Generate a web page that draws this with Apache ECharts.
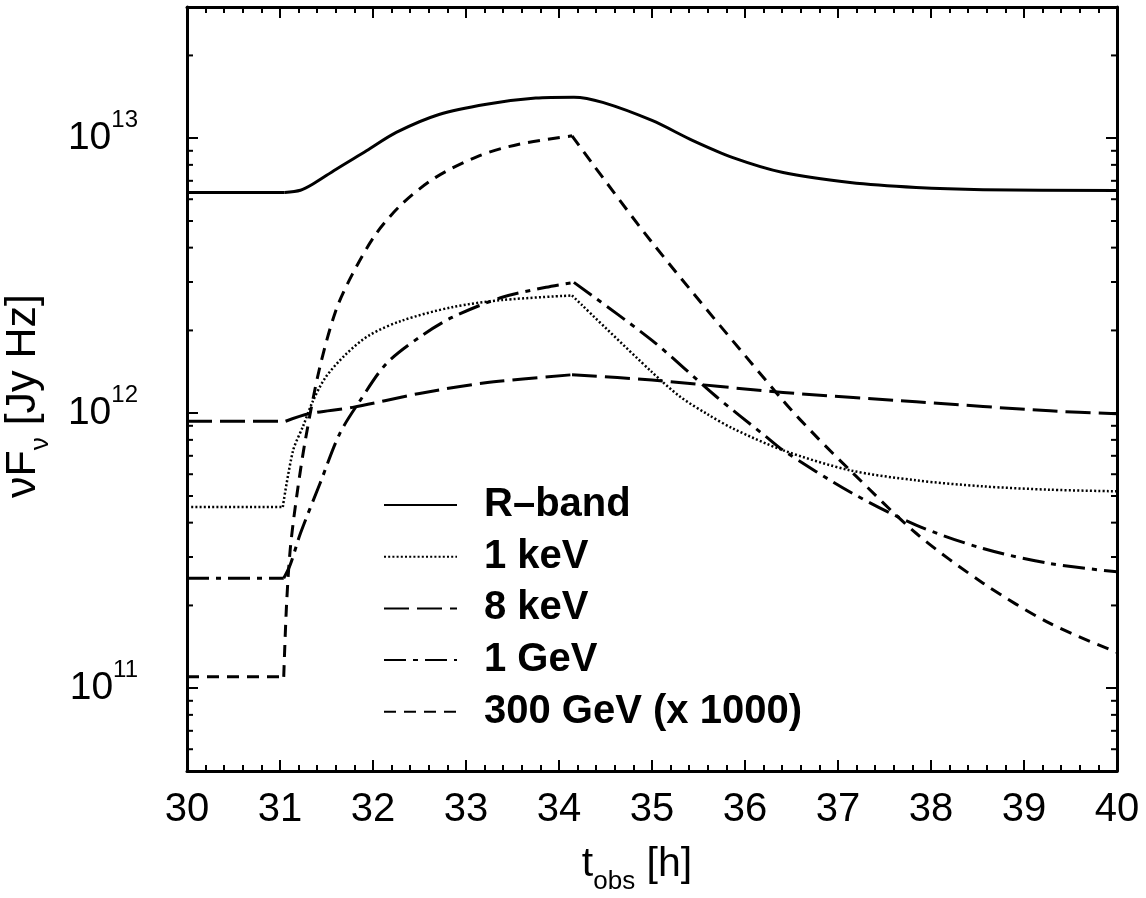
<!DOCTYPE html>
<html>
<head>
<meta charset="utf-8">
<script src="https://cdn.jsdelivr.net/npm/echarts@6/dist/echarts.min.js"></script>
<style>
html,body{margin:0;padding:0;background:#fff;}
#chart{width:1146px;height:898px;}
</style>
</head>
<body>
<div id="chart"></div>
<script>
// ---- data (t_obs in hours, nuF_nu in Jy Hz) ----
const xTicks = [30, 31, 32, 33, 34, 35, 36, 37, 38, 39, 40];
const yMajorTicks = [1e11, 1e12, 1e13];
const yMinorTicks = [6e10, 7e10, 8e10, 9e10,
  2e11, 3e11, 4e11, 5e11, 6e11, 7e11, 8e11, 9e11,
  2e12, 3e12, 4e12, 5e12, 6e12, 7e12, 8e12, 9e12,
  2e13];

const seriesNames = ['R–band', '1 keV', '8 keV', '1 GeV', '300 GeV (x 1000)'];

const rBand = [
  [30, 6.35e12], [31.05, 6.35e12], [31.22, 6.47e12], [31.35, 6.8e12], [31.6, 7.7e12],
  [31.93, 9.0e12], [32.25, 1.05e13], [32.71, 1.22e13], [33.22, 1.33e13], [33.75, 1.40e13],
  [34.16, 1.41e13], [34.47, 1.35e13], [35.0, 1.16e13], [35.44, 9.8e12], [35.87, 8.5e12],
  [36.41, 7.5e12], [37.13, 6.9e12], [37.84, 6.62e12], [38.56, 6.5e12], [40, 6.45e12]
];
const keV1 = [
  [30, 4.56e11], [31.03, 4.56e11], [31.14, 7.3e11], [31.25, 9.0e11], [31.35, 1.1e12],
  [31.49, 1.35e12], [31.71, 1.64e12], [31.96, 1.92e12], [32.31, 2.17e12], [32.85, 2.43e12],
  [33.39, 2.58e12], [34.14, 2.68e12], [35.0, 1.41e12], [35.3, 1.15e12], [35.6, 9.9e11],
  [35.87, 8.8e11], [36.41, 7.33e11], [37.13, 6.2e11], [37.84, 5.7e11], [38.56, 5.42e11],
  [39.28, 5.27e11], [40, 5.2e11]
];
const keV8 = [
  [30, 9.35e11], [31.06, 9.35e11], [31.31, 9.95e11], [31.78, 1.05e12], [32.5, 1.18e12],
  [33.21, 1.29e12], [34.14, 1.38e12], [35.0, 1.32e12], [36.41, 1.19e12], [37.84, 1.10e12],
  [39.28, 1.02e12], [40, 9.96e11]
];
const geV1 = [
  [30, 2.51e11], [31.04, 2.51e11], [31.11, 2.81e11], [31.22, 3.66e11], [31.43, 5.55e11],
  [31.64, 8.4e11], [31.86, 1.11e12], [32.14, 1.51e12], [32.5, 1.89e12], [32.85, 2.23e12],
  [33.39, 2.64e12], [33.86, 2.87e12], [34.16, 2.99e12], [35.0, 1.84e12], [35.69, 1.15e12],
  [36.23, 8.2e11], [36.41, 7.33e11], [37.13, 5.17e11], [37.84, 3.92e11], [38.56, 3.22e11],
  [39.28, 2.84e11], [40, 2.65e11]
];
const geV300 = [
  [30, 1.1e11], [31.04, 1.1e11], [31.07, 2.0e11], [31.11, 3.2e11], [31.18, 5.0e11],
  [31.27, 7.9e11], [31.42, 1.43e12], [31.6, 2.36e12], [31.78, 3.21e12], [32.03, 4.48e12],
  [32.31, 5.76e12], [32.67, 7.19e12], [33.14, 8.63e12], [33.57, 9.51e12], [34.14, 1.02e13],
  [35.0, 4.18e12], [36.41, 1.11e12], [36.77, 8.2e11], [37.13, 6.2e11], [37.84, 3.66e11],
  [38.56, 2.41e11], [39.28, 1.72e11], [40, 1.35e11]
];
// times where a curve has a sharp corner (burst onset / peak)
const rBandCorners = [31.05];
const keV1Corners = [31.03, 34.14];
const keV8Corners = [31.06, 34.14];
const geV1Corners = [31.04, 34.16];
const geV300Corners = [31.04, 34.14];

const FONT = "'Liberation Sans', Arial, sans-serif";
const X_MIN = xTicks[0], X_MAX = xTicks[xTicks.length - 1];
const Y_MIN = 5e10, Y_MAX = 3e13;

const chart = echarts.init(document.getElementById('chart'), null, {renderer: 'canvas'});

const axisLineStyle = {lineStyle: {color: '#000', width: 3}};
const tickStyle = {inside: true, length: 11, lineStyle: {color: '#000', width: 2}};
const minorTickStyle = {show: true, splitNumber: 5, length: 6, lineStyle: {color: '#000', width: 2}};

function splitAt(data, cuts) {
  const out = [];
  let cur = [];
  data.forEach(function (p) {
    cur.push(p);
    if (cuts.indexOf(p[0]) >= 0) { out.push(cur); cur = [p]; }
  });
  if (cur.length > 1) out.push(cur);
  return out;
}

function curveSeries(name, data, cuts, type, width) {
  return splitAt(data, cuts).map(function (seg) {
    const flat = seg.length === 2 && seg[0][1] === seg[1][1];
    return {
      name: name, type: 'line', data: seg, symbol: 'none',
      smooth: flat ? false : 0.3,
      xAxisIndex: 0, yAxisIndex: 0,
      lineStyle: {color: '#000', width: width, type: type, cap: 'butt', join: 'round'},
      itemStyle: {color: '#000'},
      animation: false, z: 3
    };
  });
}

const lineSeriesList = [].concat(
  curveSeries(seriesNames[0], rBand, rBandCorners, 'solid', 3),
  curveSeries(seriesNames[1], keV1, keV1Corners, [2, 2.2], 2.5),
  curveSeries(seriesNames[2], keV8, keV8Corners, [25, 8], 3),
  curveSeries(seriesNames[3], geV1, geV1Corners, [22, 7, 5, 7], 3),
  curveSeries(seriesNames[4], geV300, geV300Corners, [12, 8], 3)
);

const option = {
  backgroundColor: '#fff',
  animation: false,
  grid: {left: 187, right: 29, top: 7, bottom: 127, containLabel: false, outerBoundsMode: 'none'},
  xAxis: [
    {
      type: 'value', min: X_MIN, max: X_MAX, interval: 1, position: 'bottom',
      axisLine: axisLineStyle, axisTick: tickStyle, minorTick: minorTickStyle,
      splitLine: {show: false}, minorSplitLine: {show: false},
      axisLabel: {fontSize: 40, color: '#000', fontFamily: FONT, margin: 19},
      name: '{a|t}{s|obs}{a| [h]}',
      nameLocation: 'middle', nameGap: 64,
      nameTextStyle: {
        color: '#000', fontFamily: FONT,
        rich: {
          a: {fontSize: 41, color: '#000', fontFamily: FONT},
          s: {fontSize: 26, color: '#000', fontFamily: FONT, padding: [34, 0, 0, 0]}
        },
        padding: [0, 30, 0, 0]
      }
    },
    {
      type: 'value', min: X_MIN, max: X_MAX, interval: 1, position: 'top',
      axisLine: axisLineStyle, axisTick: tickStyle, minorTick: minorTickStyle,
      splitLine: {show: false}, minorSplitLine: {show: false},
      axisLabel: {show: false}
    }
  ],
  yAxis: [
    {
      type: 'log', logBase: 10, min: Y_MIN, max: Y_MAX, position: 'left',
      axisLine: axisLineStyle, axisTick: tickStyle,
      splitLine: {show: false},
      axisLabel: {
        margin: 49, color: '#000', fontFamily: FONT,
        formatter: function (v) {
          const e = Math.log10(v);
          const r = Math.round(e);
          if (Math.abs(e - r) > 1e-6 || yMajorTicks.indexOf(Math.pow(10, r)) < 0) return '';
          return '{b|10}{s|' + r + '}';
        },
        rich: {
          b: {fontSize: 39, color: '#000', fontFamily: FONT},
          s: {fontSize: 24, color: '#000', fontFamily: FONT, padding: [0, 0, 36, 0]}
        }
      },
      name: '{a|νF}{s|ν}{a| [Jy Hz]}',
      nameLocation: 'middle', nameGap: 133,
      nameTextStyle: {
        color: '#000', fontFamily: FONT,
        padding: [0, 14, 0, 0],
        rich: {
          a: {fontSize: 43, color: '#000', fontFamily: FONT},
          s: {fontSize: 26, color: '#000', fontFamily: FONT, padding: [36, 0, 0, 0]}
        }
      }
    },
    {
      type: 'log', logBase: 10, min: Y_MIN, max: Y_MAX, position: 'right',
      axisLine: axisLineStyle, axisTick: tickStyle,
      splitLine: {show: false}, axisLabel: {show: false}
    }
  ],
  legend: {
    data: seriesNames,
    orient: 'vertical', left: 378, top: 480, padding: 5,
    itemWidth: 73, itemHeight: 14, itemGap: 11.7,
    selectedMode: false,
    itemStyle: {opacity: 0},
    textStyle: {fontSize: 40, fontWeight: 'bold', color: '#000', fontFamily: FONT,
      lineHeight: 40, padding: [0, 0, 0, 22]}
  },
  series: lineSeriesList.concat([
    {
      type: 'custom', name: 'minorTicks', silent: true, clip: false, z: 4,
      xAxisIndex: 0, yAxisIndex: 0,
      data: yMinorTicks.map(function (v) { return [X_MIN, v]; }),
      renderItem: function (params, api) {
        const v = api.value(1);
        const p0 = api.coord([X_MIN, v]);
        const p1 = api.coord([X_MAX, v]);
        return {
          type: 'group',
          children: [
            {type: 'line', shape: {x1: p0[0], y1: p0[1], x2: p0[0] + 6, y2: p0[1]},
              style: {stroke: '#000', lineWidth: 2}},
            {type: 'line', shape: {x1: p1[0] - 6, y1: p1[1], x2: p1[0], y2: p1[1]},
              style: {stroke: '#000', lineWidth: 2}}
          ]
        };
      }
    }
  ])
};
chart.setOption(option);
</script>
</body>
</html>
